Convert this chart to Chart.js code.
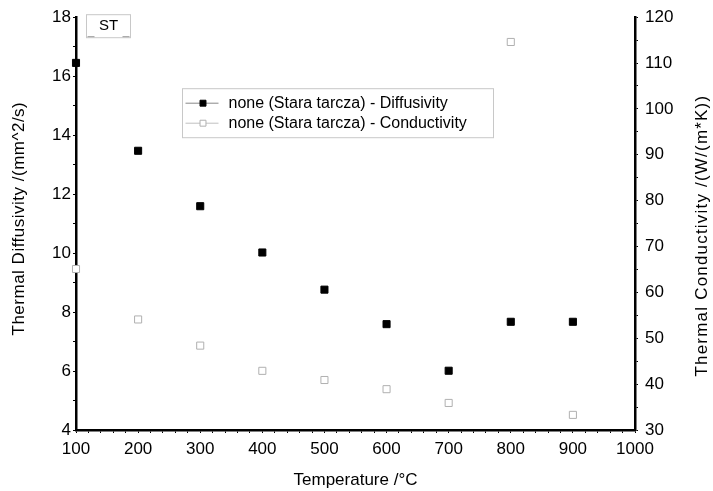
<!DOCTYPE html>
<html>
<head>
<meta charset="utf-8">
<script src="https://cdn.jsdelivr.net/npm/chart.js@4/dist/chart.umd.min.js"></script>
<style>
html,body{margin:0;padding:0;background:#fff;}
#wrap{width:713px;height:491px;}
</style>
</head>
<body>
<div id="wrap"><canvas id="c" width="713" height="491"></canvas></div>
<script>
const temperatures = [100, 200, 300, 400, 500, 600, 700, 800, 900];
const diffusivity = [16.45, 13.47, 11.59, 10.02, 8.76, 7.59, 6.01, 7.67, 7.67];
const conductivity = [65.1, 54.1, 48.4, 42.9, 40.9, 38.9, 35.9, 114.6, 33.3];
const diffLabel = 'none (Stara tarcza) - Diffusivity';
const condLabel = 'none (Stara tarcza) - Conductivity';
const xTitle = 'Temperature /°C';
const yLeftTitle = 'Thermal Diffusivity /(mm^2/s)';
const yRightTitle = 'Thermal Conductivity /(W/(m*K))';
const boxLabel = 'ST';
const xRange = [100, 1000];
const yLeftRange = [4, 18];
const yRightRange = [30, 120];

const FONT = '"Liberation Sans", Arial, sans-serif';
Chart.defaults.font.family = FONT;
Chart.defaults.color = '#000';

const toPts = (ys) => temperatures.map((t, i) => ({x: t, y: ys[i]}));

function vTitle(ctx, text, x, y, spacing) {
  ctx.save();
  ctx.translate(x, y);
  ctx.rotate(-Math.PI / 2);
  ctx.font = '17px ' + FONT;
  if ('letterSpacing' in ctx) ctx.letterSpacing = spacing;
  ctx.textAlign = 'center';
  ctx.textBaseline = 'middle';
  ctx.fillStyle = '#000';
  ctx.fillText(text, 0, 0);
  ctx.restore();
}

const overlay = {
  id: 'overlay',
  afterDraw(chart) {
    const ctx = chart.ctx;
    const a = chart.chartArea;
    ctx.save();
    // ST box
    ctx.strokeStyle = '#c8c8c8';
    ctx.lineWidth = 1;
    const bx = a.left + 10.5, by = a.top - 2.5, bw = 44, bh = 23;
    ctx.strokeRect(bx, by, bw, bh);
    ctx.strokeStyle = '#999';
    ctx.beginPath();
    ctx.moveTo(bx + 1, by + bh - 1); ctx.lineTo(bx + 8, by + bh - 1);
    ctx.moveTo(bx + bw - 8, by + bh - 1); ctx.lineTo(bx + bw - 1, by + bh - 1);
    ctx.stroke();
    ctx.fillStyle = '#000';
    ctx.font = '15px ' + FONT;
    ctx.textAlign = 'center';
    ctx.textBaseline = 'middle';
    ctx.fillText(boxLabel, bx + bw / 2, by + bh / 2);

    // Legend
    const lx = a.left + 106.5, ly = a.top + 71.5, lw = 311, lh = 49;
    ctx.strokeStyle = '#c8c8c8';
    ctx.strokeRect(lx, ly, lw, lh);
    const rows = [
      {ds: chart.data.datasets[0], line: '#888', y: ly + 14},
      {ds: chart.data.datasets[1], line: '#c0c0c0', y: ly + 34}
    ];
    ctx.font = '16px ' + FONT;
    ctx.textAlign = 'left';
    rows.forEach(r => {
      ctx.strokeStyle = r.line;
      ctx.lineWidth = 1;
      ctx.beginPath();
      ctx.moveTo(lx + 3, r.y + 0.5); ctx.lineTo(lx + 36, r.y + 0.5);
      ctx.stroke();
      ctx.fillStyle = r.ds.backgroundColor;
      ctx.strokeStyle = r.ds.borderColor;
      ctx.lineWidth = 1;
      Chart.helpers.drawPoint(ctx, {pointStyle: 'rect', radius: 4.2, rotation: 0, borderWidth: 1}, lx + 20.5, r.y + 0.5);
      ctx.fillStyle = '#000';
      ctx.fillText(r.ds.label, lx + 46, r.y + 0.5);
    });
    ctx.restore();

    // Axis titles drawn vertically (both read bottom-to-top)
    const ls = chart.scales.y, rs = chart.scales.y1;
    vTitle(ctx, yLeftTitle, ls.left + 19, (a.top + a.bottom) / 2 - 5, '0.5px');
    vTitle(ctx, yRightTitle, rs.right - 11, (a.top + a.bottom) / 2 + 12, '1.2px');
  }
};

new Chart(document.getElementById('c'), {
  type: 'scatter',
  data: {
    datasets: [
      {label: diffLabel, data: toPts(diffusivity), yAxisID: 'y',
       pointStyle: 'rect', pointRadius: 5, pointHoverRadius: 5,
       backgroundColor: '#000', borderColor: '#000', borderWidth: 1, clip: false, showLine: false},
      {label: condLabel, data: toPts(conductivity), yAxisID: 'y1',
       pointStyle: 'rect', pointRadius: 5, pointHoverRadius: 5,
       backgroundColor: '#fff', borderColor: '#b0b0b0', borderWidth: 1, clip: false, showLine: false}
    ]
  },
  options: {
    responsive: false,
    devicePixelRatio: 1,
    animation: false,
    layout: {padding: {top: 15, left: 0, right: 0, bottom: 0}},
    plugins: {legend: {display: false}, tooltip: {enabled: false}},
    scales: {
      x: {
        type: 'linear', position: 'bottom', min: xRange[0], max: xRange[1],
        afterFit: (s) => { s.height = 61; },
        border: {color: '#000', width: 2.5},
        grid: {drawOnChartArea: false, drawTicks: true, tickLength: 3, color: '#000', tickWidth: 1},
        ticks: {stepSize: 20, autoSkip: false, maxRotation: 0, padding: 6,
                font: {size: 17},
                callback: (v) => (Math.round(v) % 100 === 0 ? String(Math.round(v)) : '')},
        title: {display: true, text: xTitle, font: {size: 17}, padding: {top: 0, bottom: 0}}
      },
      y: {
        type: 'linear', position: 'left', min: yLeftRange[0], max: yLeftRange[1],
        afterFit: (s) => { s.width = 76; },
        border: {color: '#000', width: 2.5},
        grid: {drawOnChartArea: false, drawTicks: true, tickLength: 3, color: '#000', tickWidth: 1},
        ticks: {stepSize: 1, autoSkip: false, padding: 2, font: {size: 17},
                callback: (v) => (Math.round(v) % 2 === 0 ? String(Math.round(v)) : '')},
        title: {display: false}
      },
      y1: {
        type: 'linear', position: 'right', min: yRightRange[0], max: yRightRange[1],
        afterFit: (s) => { s.width = 78; },
        border: {color: '#000', width: 2.5},
        grid: {drawOnChartArea: false, drawTicks: true, tickLength: 3, color: '#000', tickWidth: 1},
        ticks: {stepSize: 5, autoSkip: false, padding: 7, font: {size: 17},
                callback: (v) => (Math.round(v) % 10 === 0 ? String(Math.round(v)) : '')},
        title: {display: false}
      }
    }
  },
  plugins: [overlay]
});
</script>
</body>
</html>
